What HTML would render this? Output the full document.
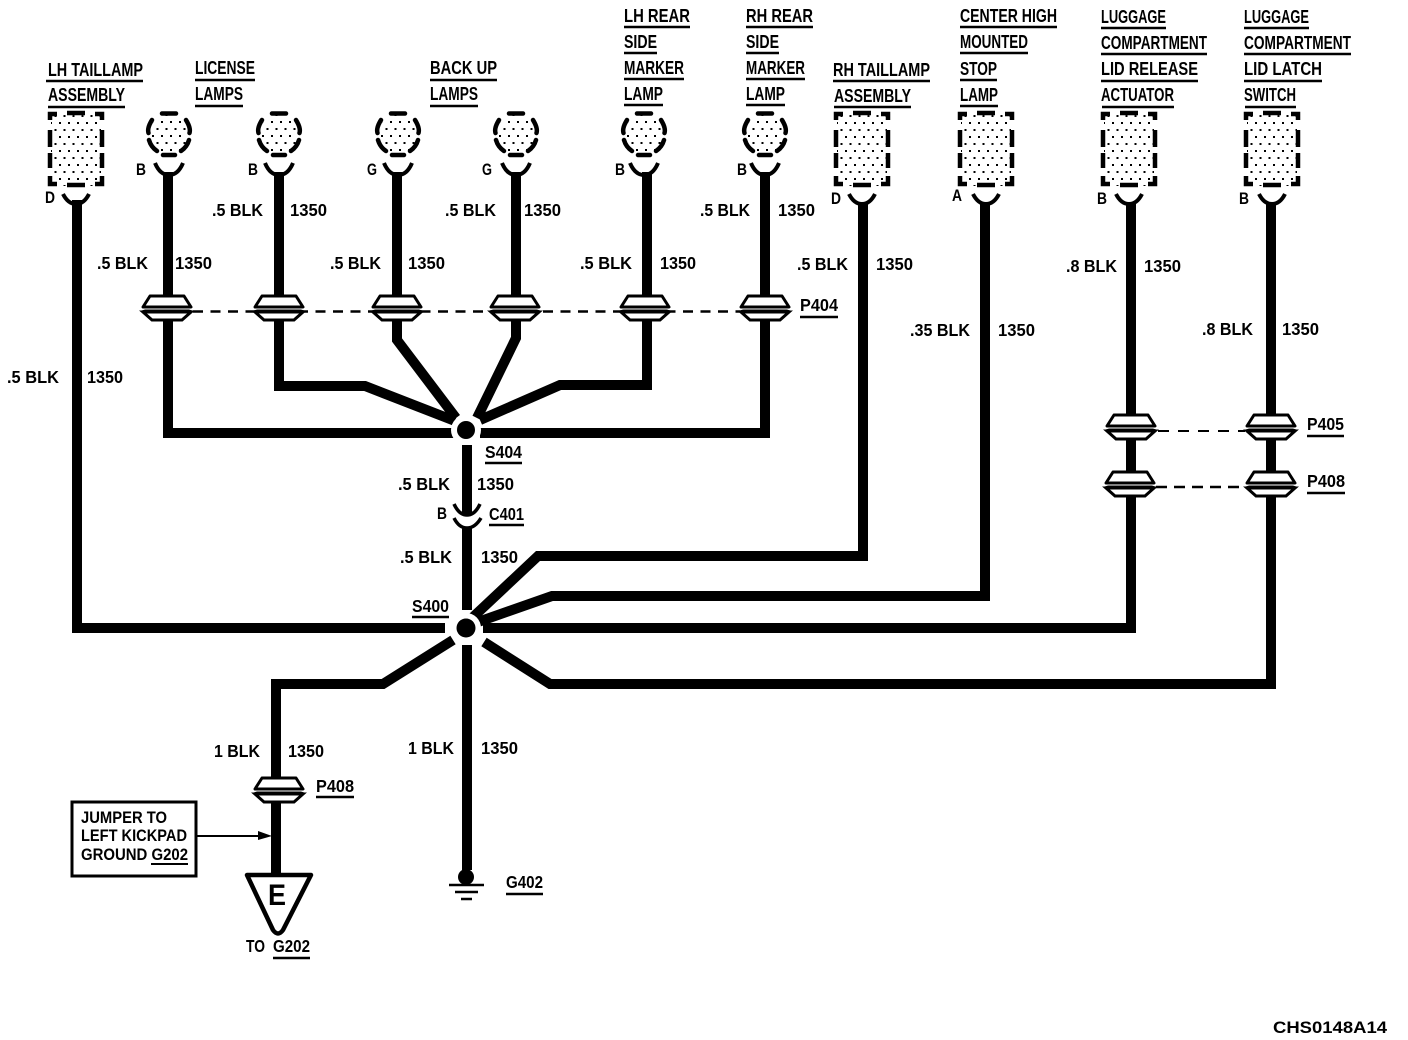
<!DOCTYPE html>
<html><head><meta charset="utf-8"><style>
html,body{margin:0;padding:0;background:#fff}
svg{display:block}
text{font-family:"Liberation Sans",sans-serif;font-weight:bold;font-size:17.5px;fill:#000}
.h{font-size:18.5px}
.p{font-size:17px}
.u{stroke:#000;stroke-width:2.5;fill:none}
.w{stroke:#000;stroke-width:10;fill:none;stroke-linejoin:miter}
</style></head><body>
<svg width="1408" height="1040" viewBox="0 0 1408 1040" xmlns="http://www.w3.org/2000/svg">
<defs>
<pattern id="dots" width="9" height="14" patternUnits="userSpaceOnUse">
<rect x="1" y="1" width="2" height="2" fill="#000"/><rect x="5.5" y="8" width="2" height="2" fill="#000"/>
</pattern>
<g id="round">
<circle cx="0" cy="0" r="19" fill="url(#dots)"/>
<path d="M-7 -20.5 H7 M-17 -14 Q-22 -6 -20.5 -1 M17 -14 Q22 -6 20.5 -1 M-20 6 Q-18 13 -12 17 M20 6 Q18 13 12 17 M-6 21 H6" fill="none" stroke="#000" stroke-width="4.5" stroke-linecap="round"/>
<path d="M-14 29 Q-9 41 0 41 Q9 41 14 29" fill="none" stroke="#000" stroke-width="4"/>
</g>
<g id="rect">
<rect x="-25" y="-35" width="50" height="72" fill="url(#dots)"/>
<path d="M-26 -29 V-35 H-19 M-9 -36 H9 M19 -35 H26 V-29 M-26 -19 V-2 M26 -19 V-2 M-26 4 V19 M26 4 V19 M-26 27 V35 H-19 M-9 36 H9 M19 35 H26 V27" fill="none" stroke="#000" stroke-width="4.5"/>
<path d="M-13 45 Q-8 55 0 55 Q8 55 13 45" fill="none" stroke="#000" stroke-width="4"/>
</g>
<g id="conn">
<rect x="-23" y="-14" width="46" height="22" fill="#fff"/>
<path d="M-17 -15 H17 L24 -4 H-24 Z" fill="#fff" stroke="#000" stroke-width="3" stroke-linejoin="round"/>
<path d="M-24 1 L-15 9 H15 L24 1 Z" fill="#fff" stroke="#000" stroke-width="3"/>
<path d="M-27 0 L-22 -1.5 H22 L27 0 L22 1.5 H-22 Z" fill="#000"/>
</g>
</defs>

<g class="w">
<path d="M77 200 V628 H445"/>
<path d="M168 172 V433 H455"/>
<path d="M279 172 V386 H365 L455 421"/>
<path d="M397 172 V340 L456 418"/>
<path d="M516 172 V338 L477 418"/>
<path d="M647 172 V385 H560 L480 420"/>
<path d="M765 172 V433 H480"/>
<path d="M467 445 V610"/>
<path d="M863 203 V556 H538 L472 618"/>
<path d="M985 203 V596 H552 L478 622"/>
<path d="M1131 203 V628 H483"/>
<path d="M1271 203 V684 H550 L484 642"/>
<path d="M453 640 L383 684 H276 V875"/>
<path d="M467 645 V870"/>
</g>

<circle cx="466" cy="430" r="15" fill="#fff"/>
<circle cx="466" cy="430" r="9" fill="#000"/>
<circle cx="466" cy="628" r="15" fill="#fff"/>
<circle cx="466" cy="628" r="9.5" fill="#000"/>

<rect x="450" y="515" width="34" height="13" fill="#fff"/>
<path d="M454 504 Q459 515 467 515 Q475 515 480 504" fill="none" stroke="#000" stroke-width="3.5"/>
<path d="M454 518 Q459 528 467 528 Q475 528 481 518" fill="none" stroke="#000" stroke-width="3.5"/>

<use href="#round" x="169" y="134"/>
<use href="#round" x="279" y="134"/>
<use href="#round" x="398" y="134"/>
<use href="#round" x="516" y="134"/>
<use href="#round" x="644" y="134"/>
<use href="#round" x="765" y="134"/>
<use href="#rect" x="76" y="149"/>
<use href="#rect" x="862" y="149"/>
<use href="#rect" x="986" y="149"/>
<use href="#rect" x="1129" y="149"/>
<use href="#rect" x="1272" y="149"/>

<path d="M193 311.5 H740" stroke="#000" stroke-width="2.5" stroke-dasharray="10 7.5"/>
<path d="M1158 431 H1245" stroke="#000" stroke-width="2" stroke-dasharray="11 9"/>
<path d="M1156 487 H1246" stroke="#000" stroke-width="2.5" stroke-dasharray="11 7"/>

<use href="#conn" x="167" y="311"/>
<use href="#conn" x="279" y="311"/>
<use href="#conn" x="397" y="311"/>
<use href="#conn" x="515" y="311"/>
<use href="#conn" x="645" y="311"/>
<use href="#conn" x="765" y="311"/>
<use href="#conn" x="1131" y="430"/>
<use href="#conn" x="1271" y="430"/>
<use href="#conn" x="1130" y="487"/>
<use href="#conn" x="1271" y="487"/>
<use href="#conn" x="279" y="793"/>

<circle cx="466" cy="877" r="8" fill="#000"/>
<path d="M449 885 H484 M455 892 H478 M461 899 H472" stroke="#000" stroke-width="2.5"/>

<rect x="72" y="802" width="124" height="74" fill="#fff" stroke="#000" stroke-width="3"/>
<path d="M196 836 H262" stroke="#000" stroke-width="2"/>
<path d="M258 831 L272 836 L258 840 Z" fill="#000"/>
<path d="M247 875 H311 L283 930 Q278 937 273 930 Z" fill="#fff" stroke="#000" stroke-width="4.5" stroke-linejoin="round"/>
<text x="268" y="905" textLength="18" lengthAdjust="spacingAndGlyphs" style="font-size:30px">E</text>

<text class="h" x="48" y="76" textLength="95" lengthAdjust="spacingAndGlyphs">LH TAILLAMP</text>
<text class="h" x="48" y="101" textLength="77" lengthAdjust="spacingAndGlyphs">ASSEMBLY</text>
<text class="h" x="195" y="74" textLength="60" lengthAdjust="spacingAndGlyphs">LICENSE</text>
<text class="h" x="195" y="100" textLength="48" lengthAdjust="spacingAndGlyphs">LAMPS</text>
<text class="h" x="430" y="74" textLength="67" lengthAdjust="spacingAndGlyphs">BACK UP</text>
<text class="h" x="430" y="100" textLength="48" lengthAdjust="spacingAndGlyphs">LAMPS</text>
<text class="h" x="624" y="22" textLength="66" lengthAdjust="spacingAndGlyphs">LH REAR</text>
<text class="h" x="624" y="48" textLength="33" lengthAdjust="spacingAndGlyphs">SIDE</text>
<text class="h" x="624" y="74" textLength="60" lengthAdjust="spacingAndGlyphs">MARKER</text>
<text class="h" x="624" y="100" textLength="39" lengthAdjust="spacingAndGlyphs">LAMP</text>
<text class="h" x="746" y="22" textLength="67" lengthAdjust="spacingAndGlyphs">RH REAR</text>
<text class="h" x="746" y="48" textLength="33" lengthAdjust="spacingAndGlyphs">SIDE</text>
<text class="h" x="746" y="74" textLength="59" lengthAdjust="spacingAndGlyphs">MARKER</text>
<text class="h" x="746" y="100" textLength="39" lengthAdjust="spacingAndGlyphs">LAMP</text>
<text class="h" x="833" y="76" textLength="97" lengthAdjust="spacingAndGlyphs">RH TAILLAMP</text>
<text class="h" x="834" y="102" textLength="77" lengthAdjust="spacingAndGlyphs">ASSEMBLY</text>
<text class="h" x="960" y="22" textLength="97" lengthAdjust="spacingAndGlyphs">CENTER HIGH</text>
<text class="h" x="960" y="48" textLength="68" lengthAdjust="spacingAndGlyphs">MOUNTED</text>
<text class="h" x="960" y="75" textLength="37" lengthAdjust="spacingAndGlyphs">STOP</text>
<text class="h" x="960" y="101" textLength="38" lengthAdjust="spacingAndGlyphs">LAMP</text>
<text class="h" x="1101" y="23" textLength="65" lengthAdjust="spacingAndGlyphs">LUGGAGE</text>
<text class="h" x="1101" y="49" textLength="106" lengthAdjust="spacingAndGlyphs">COMPARTMENT</text>
<text class="h" x="1101" y="75" textLength="97" lengthAdjust="spacingAndGlyphs">LID RELEASE</text>
<text class="h" x="1101" y="101" textLength="73" lengthAdjust="spacingAndGlyphs">ACTUATOR</text>
<text class="h" x="1244" y="23" textLength="65" lengthAdjust="spacingAndGlyphs">LUGGAGE</text>
<text class="h" x="1244" y="49" textLength="107" lengthAdjust="spacingAndGlyphs">COMPARTMENT</text>
<text class="h" x="1244" y="75" textLength="78" lengthAdjust="spacingAndGlyphs">LID LATCH</text>
<text class="h" x="1244" y="101" textLength="52" lengthAdjust="spacingAndGlyphs">SWITCH</text>

<path class="u" d="M46 81H143 M48 107H125 M195 80H255 M195 106H243 M430 80H497 M430 106H478
M624 27H690 M624 53H657 M624 79H684 M624 105H663
M746 27H813 M746 53H779 M746 79H805 M746 105H785
M833 81H930 M834 107H911
M960 27H1057 M960 53H1028 M960 80H997 M960 106H998
M1101 28H1166 M1101 54H1207 M1101 81H1198 M1102 107H1174
M1244 28H1309 M1244 54H1351 M1244 81H1322 M1245 107H1296
M485 463H522 M489 525H524 M412 617H449 M800 317H838 M1307 436H1344 M1307 493H1345 M316 797H354 M506 894H543 M273 958H310"/>
<path d="M151 864H188" stroke="#000" stroke-width="2"/>

<text class="p" x="136" y="175" textLength="10" lengthAdjust="spacingAndGlyphs">B</text>
<text class="p" x="248" y="175" textLength="10" lengthAdjust="spacingAndGlyphs">B</text>
<text class="p" x="367" y="175" textLength="10" lengthAdjust="spacingAndGlyphs">G</text>
<text class="p" x="482" y="175" textLength="10" lengthAdjust="spacingAndGlyphs">G</text>
<text class="p" x="615" y="175" textLength="10" lengthAdjust="spacingAndGlyphs">B</text>
<text class="p" x="737" y="175" textLength="10" lengthAdjust="spacingAndGlyphs">B</text>
<text class="p" x="45" y="203" textLength="10" lengthAdjust="spacingAndGlyphs">D</text>
<text class="p" x="831" y="204" textLength="10" lengthAdjust="spacingAndGlyphs">D</text>
<text class="p" x="952" y="201" textLength="10" lengthAdjust="spacingAndGlyphs">A</text>
<text class="p" x="1097" y="204" textLength="10" lengthAdjust="spacingAndGlyphs">B</text>
<text class="p" x="1239" y="204" textLength="10" lengthAdjust="spacingAndGlyphs">B</text>
<text class="p" x="437" y="519" textLength="10" lengthAdjust="spacingAndGlyphs">B</text>

<text x="97" y="269" textLength="51" lengthAdjust="spacingAndGlyphs">.5 BLK</text><text x="175" y="269" textLength="37" lengthAdjust="spacingAndGlyphs">1350</text>
<text x="212" y="216" textLength="51" lengthAdjust="spacingAndGlyphs">.5 BLK</text><text x="290" y="216" textLength="37" lengthAdjust="spacingAndGlyphs">1350</text>
<text x="330" y="269" textLength="51" lengthAdjust="spacingAndGlyphs">.5 BLK</text><text x="408" y="269" textLength="37" lengthAdjust="spacingAndGlyphs">1350</text>
<text x="445" y="216" textLength="51" lengthAdjust="spacingAndGlyphs">.5 BLK</text><text x="524" y="216" textLength="37" lengthAdjust="spacingAndGlyphs">1350</text>
<text x="580" y="269" textLength="52" lengthAdjust="spacingAndGlyphs">.5 BLK</text><text x="660" y="269" textLength="36" lengthAdjust="spacingAndGlyphs">1350</text>
<text x="700" y="216" textLength="50" lengthAdjust="spacingAndGlyphs">.5 BLK</text><text x="778" y="216" textLength="37" lengthAdjust="spacingAndGlyphs">1350</text>
<text x="797" y="270" textLength="51" lengthAdjust="spacingAndGlyphs">.5 BLK</text><text x="876" y="270" textLength="37" lengthAdjust="spacingAndGlyphs">1350</text>
<text x="910" y="336" textLength="60" lengthAdjust="spacingAndGlyphs">.35 BLK</text><text x="998" y="336" textLength="37" lengthAdjust="spacingAndGlyphs">1350</text>
<text x="1066" y="272" textLength="51" lengthAdjust="spacingAndGlyphs">.8 BLK</text><text x="1144" y="272" textLength="37" lengthAdjust="spacingAndGlyphs">1350</text>
<text x="1202" y="335" textLength="51" lengthAdjust="spacingAndGlyphs">.8 BLK</text><text x="1282" y="335" textLength="37" lengthAdjust="spacingAndGlyphs">1350</text>
<text x="7" y="383" textLength="52" lengthAdjust="spacingAndGlyphs">.5 BLK</text><text x="87" y="383" textLength="36" lengthAdjust="spacingAndGlyphs">1350</text>
<text x="398" y="490" textLength="52" lengthAdjust="spacingAndGlyphs">.5 BLK</text><text x="477" y="490" textLength="37" lengthAdjust="spacingAndGlyphs">1350</text>
<text x="400" y="563" textLength="52" lengthAdjust="spacingAndGlyphs">.5 BLK</text><text x="481" y="563" textLength="37" lengthAdjust="spacingAndGlyphs">1350</text>
<text x="214" y="757" textLength="46" lengthAdjust="spacingAndGlyphs">1 BLK</text><text x="288" y="757" textLength="36" lengthAdjust="spacingAndGlyphs">1350</text>
<text x="408" y="754" textLength="46" lengthAdjust="spacingAndGlyphs">1 BLK</text><text x="481" y="754" textLength="37" lengthAdjust="spacingAndGlyphs">1350</text>

<text x="485" y="458" textLength="37" lengthAdjust="spacingAndGlyphs">S404</text>
<text x="489" y="520" textLength="35" lengthAdjust="spacingAndGlyphs">C401</text>
<text x="412" y="612" textLength="37" lengthAdjust="spacingAndGlyphs">S400</text>
<text x="800" y="311" textLength="38" lengthAdjust="spacingAndGlyphs">P404</text>
<text x="1307" y="430" textLength="37" lengthAdjust="spacingAndGlyphs">P405</text>
<text x="1307" y="487" textLength="38" lengthAdjust="spacingAndGlyphs">P408</text>
<text x="316" y="792" textLength="38" lengthAdjust="spacingAndGlyphs">P408</text>
<text x="506" y="888" textLength="37" lengthAdjust="spacingAndGlyphs">G402</text>
<text x="246" y="952" textLength="19" lengthAdjust="spacingAndGlyphs">TO</text>
<text x="273" y="952" textLength="37" lengthAdjust="spacingAndGlyphs">G202</text>

<text x="81" y="823" textLength="86" lengthAdjust="spacingAndGlyphs" style="font-size:17px">JUMPER TO</text>
<text x="81" y="841" textLength="106" lengthAdjust="spacingAndGlyphs" style="font-size:17px">LEFT KICKPAD</text>
<text x="81" y="860" textLength="107" lengthAdjust="spacingAndGlyphs" style="font-size:17px">GROUND G202</text>

<text x="1273" y="1033" textLength="114" lengthAdjust="spacingAndGlyphs" style="font-size:17px">CHS0148A14</text>
</svg>
</body></html>
